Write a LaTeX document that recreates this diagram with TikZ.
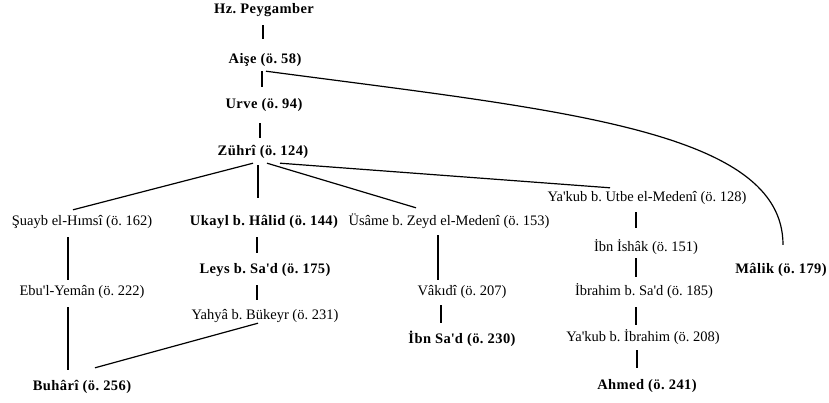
\documentclass[tikz,border=0pt]{standalone}
\usepackage{fontspec}
\setmainfont{Liberation Serif}[BoldFeatures={LetterSpace=3}]
\usepackage{tikz}
\usetikzlibrary{calc}
\frenchspacing

\begin{document}
\begin{tikzpicture}[x=1pt,y=-1pt,
  isim/.style={inner sep=0pt,text height=10pt,text depth=3pt,font=\fontsize{14.5}{17}\selectfont},
  kalinisim/.style={isim,font=\fontsize{14.5}{17}\selectfont\bfseries},
  bag/.style={line width=1.2pt},
  kalinbag/.style={line width=2.4pt}]
  \useasboundingbox (0,0) rectangle (829,403);
  \node[kalinisim] (pey) at (264,10) {Hz. Peygamber};
  \node[kalinisim] (aise) at (265,60) {Aişe (ö. 58)};
  \node[kalinisim] (urve) at (264,105) {Urve (ö. 94)};
  \node[kalinisim] (zuhri) at (263,152) {Zührî (ö. 124)};
  \node[isim] (suayb) at (82,222) {Şuayb el-Hımsî (ö. 162)};
  \node[kalinisim] (ukayl) at (264,222) {Ukayl b. Hâlid (ö. 144)};
  \node[isim] (usame) at (449,222) {Üsâme b. Zeyd el-Medenî (ö. 153)};
  \node[isim] (yakubu) at (647,198) {Ya\textquotesingle kub b. Utbe el-Medenî (ö. 128)};
  \node[isim] (ebu) at (82,292) {Ebu\textquotesingle l-Yemân (ö. 222)};
  \node[kalinisim] (leys) at (265,270) {Leys b. Sa\textquotesingle d (ö. 175)};
  \node[isim] (yahya) at (265,316) {Yahyâ b. Bükeyr (ö. 231)};
  \node[kalinisim] (buhari) at (82,387) {Buhârî (ö. 256)};
  \node[isim] (vakidi) at (462,292) {Vâkıdî (ö. 207)};
  \node[kalinisim] (ibnsad) at (462,340) {İbn Sa\textquotesingle d (ö. 230)};
  \node[isim] (ibnishak) at (646,248) {İbn İshâk (ö. 151)};
  \node[isim] (ibrahim) at (644,292) {İbrahim b. Sa\textquotesingle d (ö. 185)};
  \node[isim] (yakubi) at (643,338) {Ya\textquotesingle kub b. İbrahim (ö. 208)};
  \node[kalinisim] (ahmed) at (647,386) {Ahmed (ö. 241)};
  \node[kalinisim] (malik) at (781,270) {Mâlik (ö. 179)};

  \draw[kalinbag] ([shift={(-1,8.5)}]pey.south) -- ([shift={(-2,-14.5)}]aise.north);
  \draw[kalinbag] ([shift={(-3,4.5)}]aise.south) -- ([shift={(-2,-11.5)}]urve.north);
  \draw[kalinbag] ([shift={(-4,11.5)}]urve.south) -- ([shift={(-3,-7.5)}]zuhri.north);
  \draw[kalinbag] ([shift={(-5,6.5)}]zuhri.south) -- ([shift={(-6,-17.5)}]ukayl.north);
  \draw[bag] ([shift={(-10,4.5)}]zuhri.south) -- ([shift={(-9,-5.5)}]suayb.north);
  \draw[bag] ([shift={(4,4.5)}]zuhri.south) -- ([shift={(-33,-7.5)}]usame.north);
  \draw[bag] ([shift={(17,4.5)}]zuhri.south) -- ([shift={(-37,-3.5)}]yakubu.north);
  \draw[bag] ([shift={(1,4.5)}]aise.south) .. controls +(294,39) and +(0,-115) .. ([shift={(2,-18.5)}]malik.north);
  \draw[bag] ([shift={(-14,8.5)}]suayb.south) -- ([shift={(-14,-5.5)}]ebu.north);
  \draw[bag] ([shift={(-14,8.5)}]ebu.south) -- ([shift={(-14,-10.5)}]buhari.north);
  \draw[kalinbag] ([shift={(-7,8.5)}]ukayl.south) -- ([shift={(-8,-10.5)}]leys.north);
  \draw[bag] ([shift={(-8,8.5)}]leys.south) -- ([shift={(-8,-9.5)}]yahya.north);
  \draw[bag] ([shift={(-7,0.5)}]yahya.south) -- ([shift={(13,-12.5)}]buhari.north);
  \draw[bag] ([shift={(-11,6.5)}]usame.south) -- ([shift={(-24,-5.5)}]vakidi.north);
  \draw[bag] ([shift={(-21,6.5)}]vakidi.south) -- ([shift={(-21,-10.5)}]ibnsad.north);
  \draw[bag] ([shift={(-11,7.5)}]yakubu.south) -- ([shift={(-10,-13.5)}]ibnishak.north);
  \draw[bag] ([shift={(-10,3.5)}]ibnishak.south) -- ([shift={(-8,-8.5)}]ibrahim.north);
  \draw[bag] ([shift={(-8,8.5)}]ibrahim.south) -- ([shift={(-7,-6.5)}]yakubi.north);
  \draw[bag] ([shift={(-6,5.5)}]yakubi.south) -- ([shift={(-10,-11.5)}]ahmed.north);
\end{tikzpicture}
\end{document}
